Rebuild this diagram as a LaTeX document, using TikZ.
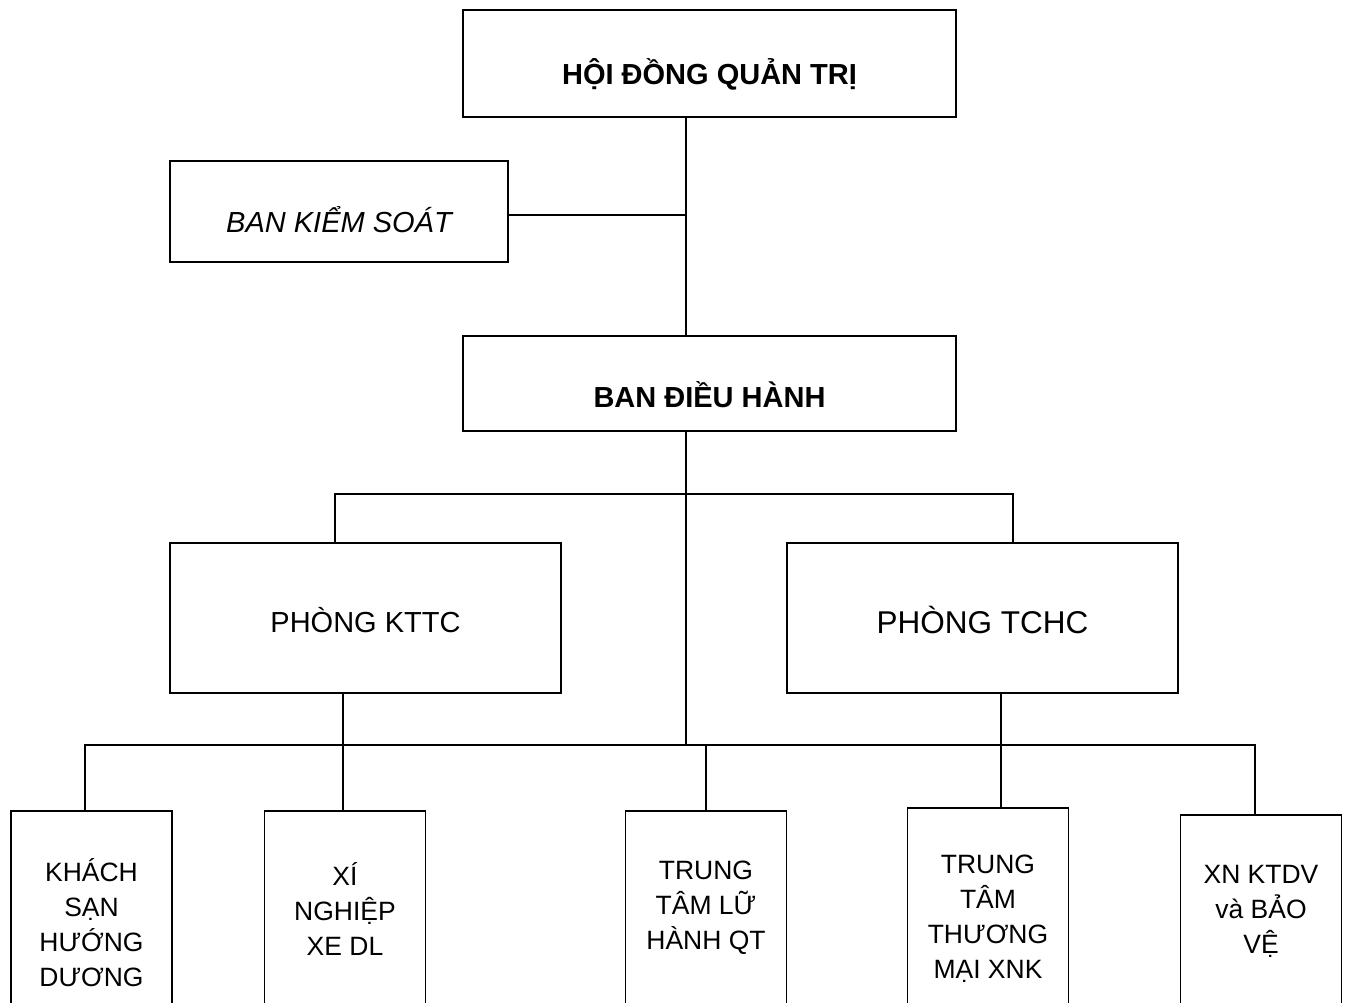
\documentclass[tikz,border=0pt]{standalone}
\usepackage{fontspec}
\setmainfont{Liberation Sans}
\begin{document}
\begin{tikzpicture}[x=1pt,y=-1pt,
  conn/.style={line width=1.8pt},
  topbox/.style={draw, line width=1.8pt, inner ysep=0pt, inner xsep=0pt, align=center,
     font=\fontsize{29}{35}\selectfont},
  midbox/.style={draw, line width=1.8pt, inner ysep=0pt, inner xsep=0pt, align=center},
  unitbox/.style={draw, line width=1.8pt, inner sep=0pt, align=center, minimum width=161pt,
     font=\fontsize{26.5}{35}\selectfont}]
\useasboundingbox (0,0) rectangle (1346,1002);
% top level
\node[topbox, minimum width=493pt, text height=74pt, text depth=33pt] (hdqt) at (709.5,63.5) {\bfseries HỘI ĐỒNG QUẢN TRỊ};
\node[topbox, minimum width=338pt, text height=71pt, text depth=30pt] (bks) at (339,211.5) {\itshape BAN KIỂM SOÁT};
\node[topbox, minimum width=493pt, text height=71pt, text depth=24pt] (bdh) at (709.5,383.5) {\bfseries BAN ĐIỀU HÀNH};
% departments
\node[midbox, minimum width=391pt, text height=89pt, text depth=61pt, font=\fontsize{29}{35}\selectfont] (kttc) at (365.5,618) {PHÒNG KTTC};
\node[midbox, minimum width=391pt, text height=90pt, text depth=60pt, font=\fontsize{31.5}{36}\selectfont] (tchc) at (982.5,618) {PHÒNG TCHC};
% units
\node[unitbox, minimum height=224pt] (ks) at (91.5,923) {KHÁCH\\SẠN\\HƯỚNG\\DƯƠNG};
\node[unitbox, minimum height=196pt] (xn) at (345,909) {XÍ\\NGHIỆP\\XE DL};
\node[unitbox, minimum height=194pt] (ttlh) at (706,908) {TRUNG\\TÂM LỮ\\HÀNH QT};
\node[unitbox, minimum height=222pt] (tttm) at (988,919) {TRUNG\\TÂM\\THƯƠNG\\MẠI XNK};
\node[unitbox, minimum height=192pt] (xnk) at (1261,911) {XN KTDV\\và BẢO\\VỆ};
% helper coordinates
\coordinate (tx) at (686,0);
\coordinate (bksy) at (0,215);
\coordinate (busy) at (0,745);
\coordinate (k1) at (335,494);
\coordinate (k2) at (1013,494);
\coordinate (b1) at (85,745);
\coordinate (b5) at (1255,745);
\coordinate (kx) at (343,0);
\coordinate (cx) at (1001,0);
% connectors
\draw[conn] (hdqt.south -| tx) -- (bdh.north -| tx);
\draw[conn] (bks.east |- bksy) -- (tx |- bksy);
\draw[conn] (bdh.south -| tx) -- (tx |- busy);
\draw[conn] (kttc.north -| k1) -- (k1) -- (k2) -- (tchc.north -| k2);
\draw[conn] (ks.north -| b1) -- (b1) -- (b5) -- (xnk.north -| b5);
\draw[conn] (kttc.south -| kx) -- (xn.north -| kx);
\draw[conn] (tchc.south -| cx) -- (tttm.north -| cx);
\draw[conn] (ttlh.north) -- (ttlh.north |- busy);
\end{tikzpicture}
\end{document}
